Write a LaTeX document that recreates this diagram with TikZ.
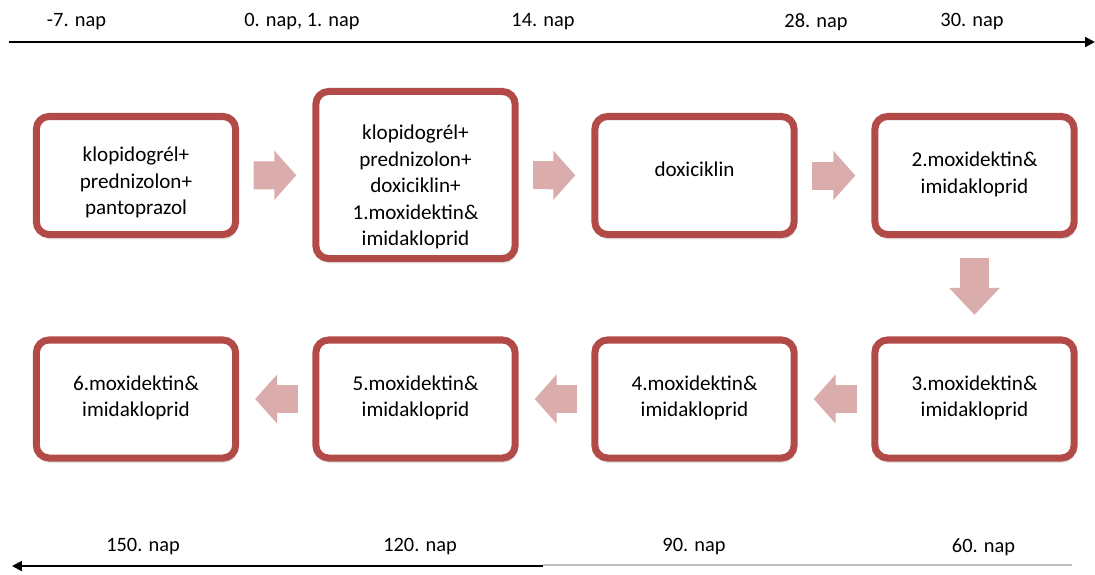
\documentclass[tikz,border=0pt]{standalone}
\usepackage{fontspec}
\setmainfont{Carlito}
\usepackage{tikz}
\definecolor{kezelesred}{RGB}{178,75,72}
\definecolor{nyilpink}{RGB}{219,172,172}
\definecolor{halvany}{RGB}{192,192,192}
\usetikzlibrary{arrows.meta,positioning,calc,shadows}
\tikzset{
    kezeles/.style={draw=kezelesred, line width=5pt, fill=white, rounded corners=9pt,
        minimum width=4.98cm, minimum height=2.95cm,
        drop shadow={opacity=0.22, shadow xshift=1pt, shadow yshift=-3.5pt}},
    szoveg/.style={align=center, inner sep=0pt, font=\fontsize{15}{18.8}\selectfont},
    blokknyil/.style={draw=nyilpink, line width=0.7cm,
        -{Triangle[width=1.2cm,length=0.55cm]}, shorten <=0.36cm, shorten >=0.4cm},
    napcimke/.style={font=\fontsize{14.5}{17}\selectfont},
    idovonal/.style={line width=1.4pt, -{Triangle[length=7pt,width=7pt]}}
}

\begin{document}
\begin{tikzpicture}[x=0.025cm, y=-0.025cm]
    \useasboundingbox (0,0) rectangle (1095,574);
    % time axis, top
    \coordinate (fentbal) at (9,42);
    \coordinate (fentjobb) at (1095,42);
    \draw[idovonal] (fentbal) -- (fentjobb);
    \node[napcimke] (t1) at (76.5,22) {-7. nap};
    \node[napcimke] (t2) at (302,22) {0. nap, 1. nap};
    \node[napcimke] (t3) at (543,22) {14. nap};
    \node[napcimke] (t4) at (816,22) {28. nap};
    \node[napcimke] (t5) at (972,22) {30. nap};
    % first row
    \node[kezeles] (k1) at (136,175.5) {};
    \node[kezeles, minimum height=4.175cm] (k2) at (415.5,175) {};
    \node[kezeles] (k3) at (694.5,175.5) {};
    \node[kezeles] (k4) at (974.5,175.5) {};
    \node[szoveg] (s1) at ($(k1)+(0,7)$) {klopidogrél+\\prednizolon+\\pantoprazol};
    \node[szoveg] (s2) at ($(k2)+(0,12)$) {klopidogrél+\\prednizolon+\\doxiciklin+\\1.moxidektin\&\\imidakloprid};
    \node[szoveg] (s3) at ($(k3)+(0,-6)$) {doxiciklin};
    \node[szoveg] (s4) at ($(k4)+(0,-1)$) {2.moxidektin\&\\imidakloprid};
    % second row
    \node[kezeles] (k5) at (974.5,399) {};
    \node[kezeles] (k6) at (694.5,399) {};
    \node[kezeles] (k7) at (415.5,399) {};
    \node[kezeles] (k8) at (136,399) {};
    \node[szoveg] (s5) at ($(k5)+(0,-1)$) {3.moxidektin\&\\imidakloprid};
    \node[szoveg] (s6) at ($(k6)+(0,-1)$) {4.moxidektin\&\\imidakloprid};
    \node[szoveg] (s7) at ($(k7)+(0,-1)$) {5.moxidektin\&\\imidakloprid};
    \node[szoveg] (s8) at ($(k8)+(0,-1)$) {6.moxidektin\&\\imidakloprid};
    % arrows between the boxes
    \draw[blokknyil] (k1) -- (k2);
    \draw[blokknyil] (k2) -- (k3);
    \draw[blokknyil] (k3) -- (k4);
    \draw[blokknyil, line width=0.725cm, -{Triangle[width=1.225cm,length=0.675cm]},
        shorten <=0.5cm, shorten >=0.54cm] (k4) -- (k5);
    \draw[blokknyil] (k5) -- (k6);
    \draw[blokknyil] (k6) -- (k7);
    \draw[blokknyil] (k7) -- (k8);
    % time axis, bottom
    \coordinate (lentjobb) at (1072,565);
    \coordinate (lentkozep) at (543,566);
    \coordinate (lentbal) at (12,566);
    \draw[halvany, line width=1.4pt] (lentjobb) -- (lentkozep |- lentjobb);
    \draw[idovonal] (lentkozep) -- (lentbal);
    \node[napcimke] (b1) at (143,547) {150. nap};
    \node[napcimke] (b2) at (420,547) {120. nap};
    \node[napcimke] (b3) at (694,547) {90. nap};
    \node[napcimke] (b4) at (983.5,547) {60. nap};
\end{tikzpicture}
\end{document}
